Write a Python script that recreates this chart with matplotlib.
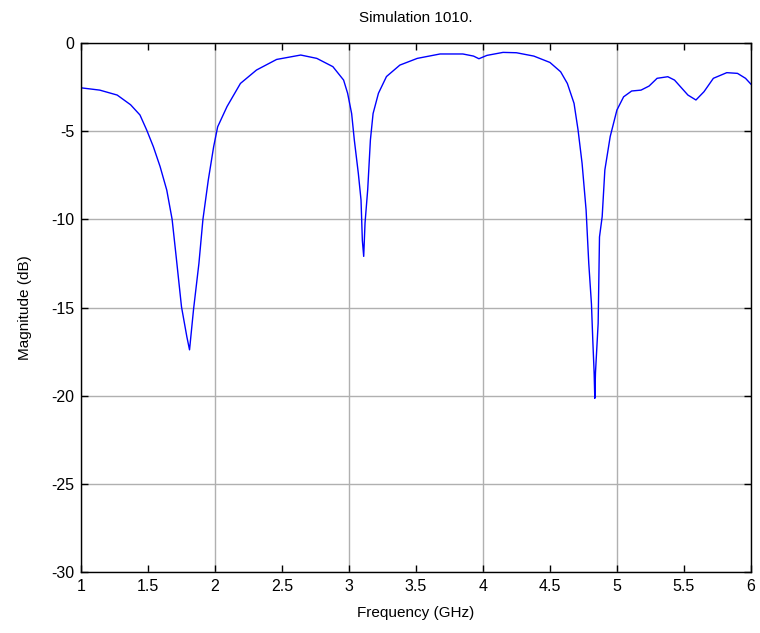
import matplotlib
matplotlib.use("Agg")
import matplotlib.pyplot as plt
from matplotlib.ticker import MultipleLocator, FuncFormatter

plt.rcParams['font.family'] = ['Liberation Sans', 'DejaVu Sans']
plt.rcParams['axes.unicode_minus'] = False

# Frequency (GHz) and magnitude (dB)
freq = [1.00, 1.14, 1.27, 1.37, 1.44, 1.49, 1.54, 1.59, 1.64, 1.68, 1.71, 1.75,
        1.79, 1.81, 1.84, 1.88, 1.91, 1.95, 1.99, 2.02, 2.09, 2.19, 2.31, 2.46,
        2.64, 2.76, 2.88, 2.96, 2.99, 3.02, 3.04, 3.07, 3.09, 3.10, 3.11, 3.12,
        3.14, 3.16, 3.18, 3.22, 3.28, 3.38, 3.51, 3.68, 3.85, 3.93, 3.97, 4.03,
        4.15, 4.25, 4.38, 4.50, 4.58, 4.63, 4.68, 4.71, 4.74, 4.77, 4.79, 4.81,
        4.82, 4.83, 4.835, 4.84, 4.86, 4.87, 4.89, 4.91, 4.95, 5.00, 5.05, 5.11,
        5.18, 5.24, 5.30, 5.38, 5.43, 5.53, 5.59, 5.65, 5.72, 5.82, 5.90, 5.96,
        6.00]
mag = [-2.54, -2.67, -2.95, -3.50, -4.08, -4.93, -5.88, -7.00, -8.34, -10.0, -12.1, -14.96,
       -16.66, -17.40, -15.1, -12.5, -10.0, -7.77, -5.88, -4.75, -3.60, -2.29, -1.53, -0.93,
       -0.68, -0.87, -1.34, -2.10, -2.85, -4.00, -5.50, -7.40, -8.90, -11.2, -12.1, -10.2,
       -8.30, -5.50, -4.00, -2.85, -1.90, -1.25, -0.87, -0.62, -0.62, -0.74, -0.89, -0.70,
       -0.53, -0.55, -0.74, -1.10, -1.63, -2.29, -3.42, -4.93, -6.82, -9.47, -12.5, -14.8,
       -16.85, -18.7, -20.15, -18.7, -15.9, -11.0, -9.85, -7.20, -5.30, -3.80, -3.05, -2.72,
       -2.67, -2.44, -2.00, -1.91, -2.10, -2.95, -3.23, -2.76, -2.00, -1.68, -1.72, -2.00,
       -2.33]

fig = plt.figure(figsize=(7.6, 6.33), dpi=100)
ax = fig.add_axes([0.1066, 0.0964, 0.8814, 0.8356])
ax.plot(freq, mag, color='#0000ff', linewidth=1.0)

ax.set_xlim(1, 6)
ax.set_ylim(-30, 0)
# integer ticks carry the grid, half steps are labelled minor ticks
ax.xaxis.set_major_locator(MultipleLocator(1))
ax.xaxis.set_minor_locator(MultipleLocator(0.5))
ax.yaxis.set_major_locator(MultipleLocator(5))
fmt = FuncFormatter(lambda v, p: '%g' % v)
ax.xaxis.set_major_formatter(fmt)
ax.xaxis.set_minor_formatter(fmt)

ax.tick_params(which='both', direction='in', top=True, right=True, length=5,
               labelsize=11.5, width=1, pad=5)
ax.tick_params(axis='y', which='minor', length=0)
ax.grid(True, which='major', color='#b0b0b0', linewidth=1)
for s in ax.spines.values():
    s.set_linewidth(1)
    s.set_color('black')

ax.set_title('Simulation 1010.', fontsize=11, pad=15)
ax.set_xlabel('Frequency (GHz)', fontsize=11, labelpad=9)
ax.set_ylabel('Magnitude (dB)', fontsize=11, labelpad=14)

fig.savefig('out.png', dpi=100)
